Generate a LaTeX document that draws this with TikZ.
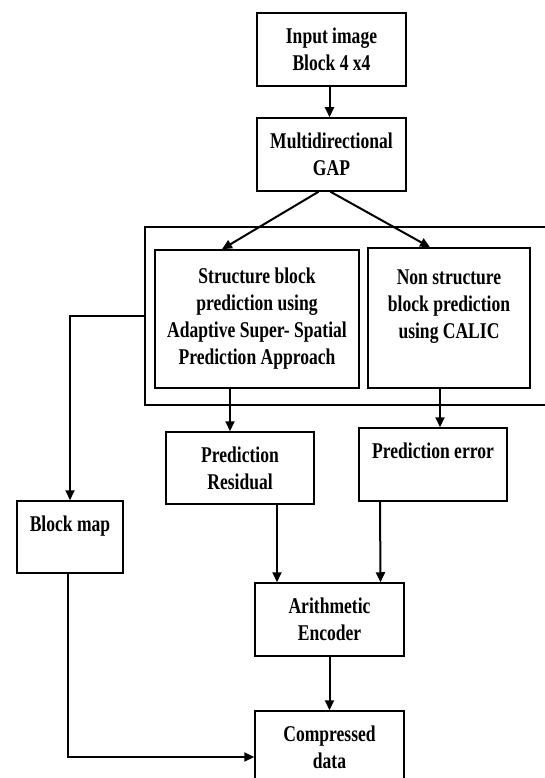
\documentclass[tikz,border=0pt]{standalone}
\usepackage{fontspec}
\setmainfont{Liberation Serif}[FakeStretch=0.78]
\usepackage{tikz}
\usetikzlibrary{positioning,arrows.meta}
\tikzset{
  blk/.style={draw, line width=1.5pt, align=center, inner sep=0pt,
              font=\fontsize{22.5}{27}\selectfont\bfseries},
  grpbox/.style={draw, line width=1.5pt, inner sep=0pt},
  ar/.style={-{Triangle[length=10pt,width=9pt]}, line width=2pt}
}
\begin{document}
\begin{tikzpicture}[x=1pt,y=-1pt]
\useasboundingbox (0,0) rectangle (545,778);
\node[grpbox, minimum width=420pt, minimum height=178pt, anchor=north west] (grp) at (144,226) {};
\node[blk, minimum width=149pt, minimum height=73pt] (inp) at (331.5,49.5) {Input image\\Block 4 x4};
\node[blk, minimum width=149pt, minimum height=73pt] (gap) at (331.5,154.5) {Multidirectional\\GAP};
\node[blk, minimum width=204pt, minimum height=138pt] (struct) at (257,319) {Structure block\\prediction using\\Adaptive Super- Spatial\\Prediction Approach};
\node[blk, minimum width=162pt, minimum height=140pt] (nonst) at (449,318) {Non structure\\block prediction\\using CALIC\\~};
\node[blk, minimum width=148pt, minimum height=72pt] (resid) at (240,468) {Prediction\\Residual};
\node[blk, minimum width=148pt, minimum height=73pt] (perr) at (433,464.5) {Prediction error\\~};
\node[blk, minimum width=106pt, minimum height=72pt] (bmap) at (70,537) {Block map\\~};
\node[blk, minimum width=149pt, minimum height=73pt] (arith) at (329.5,619.5) {Arithmetic\\Encoder};
\node[blk, minimum width=149pt, minimum height=73pt] (comp) at (329.5,747.5) {Compressed\\data};
\draw[ar] ([xshift=-2pt]inp.south) -- ([xshift=-2pt]gap.north);
\draw[ar] ([xshift=-13pt]gap.south) -- ([xshift=-35pt]struct.north);
\draw[ar] ([xshift=-1pt]gap.south) -- ([xshift=-19pt]nonst.north);
\draw[ar] ([xshift=-27pt]struct.south) -- ([xshift=-10pt]resid.north);
\draw[ar] ([xshift=-9pt]nonst.south) -- ([xshift=7pt]perr.north);
\draw[ar] (grp.west) -| (bmap.north);
\draw[ar] ([xshift=37pt]resid.south) -- ([xshift=-52.5pt]arith.north);
\draw[ar] ([xshift=-53pt]perr.south) -- ([xshift=51pt]arith.north);
\draw[ar] (arith.south) -- (comp.north);
\draw[ar] ([xshift=-2pt]bmap.south) |- ([yshift=-9.5pt]comp.west);
\end{tikzpicture}
\end{document}
